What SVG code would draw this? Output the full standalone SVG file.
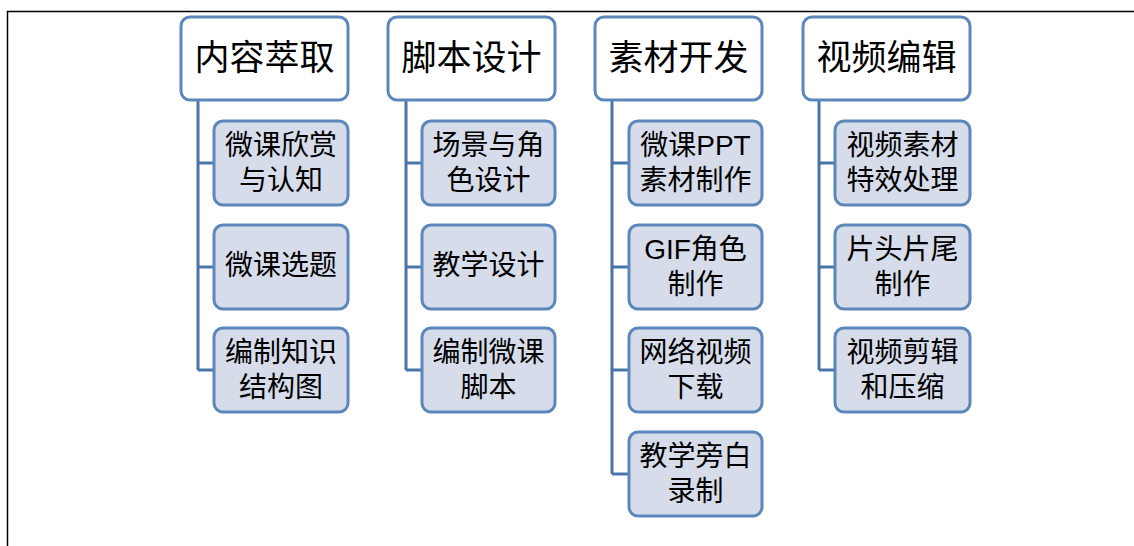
<svg xmlns="http://www.w3.org/2000/svg" width="1134" height="546" viewBox="0 0 1134 546">
<style>
.top{fill:#ffffff;stroke:#5b87bd;stroke-width:3}
.sub{fill:#d6dcea;stroke:#5b87bd;stroke-width:3}
.t1{font-family:"Liberation Sans","Noto Sans CJK SC",sans-serif;font-size:35px;fill:#000;text-anchor:middle}
.t2{font-family:"Liberation Sans","Noto Sans CJK SC",sans-serif;font-size:28px;fill:#000;text-anchor:middle}
.ln{fill:none;stroke:#4a74a8;stroke-width:3}
</style>
<rect x="0" y="0" width="1134" height="546" fill="#ffffff"/>
<rect x="7.5" y="11.5" width="1140" height="545" fill="none" stroke="#000" stroke-width="1.5"/>
<g id="connectors">
<path class="ln" d="M198 100V370M198 163H214M198 267H214M198 370H214"/>
<path class="ln" d="M406 100V370M406 163H422M406 267H422M406 370H422"/>
<path class="ln" d="M612 100V474M612 163H629M612 267H629M612 370H629M612 474H629"/>
<path class="ln" d="M819 100V370M819 163H835M819 267H835M819 370H835"/>
</g>
<g id="n1"><rect class="top" x="181" y="17" width="167" height="83" rx="9"/><text class="t1" x="264.5" y="70">内容萃取</text></g>
<g id="n2"><rect class="top" x="388" y="17" width="167" height="83" rx="9"/><text class="t1" x="471.5" y="70">脚本设计</text></g>
<g id="n3"><rect class="top" x="595" y="17" width="167" height="83" rx="9"/><text class="t1" x="678.5" y="70">素材开发</text></g>
<g id="n4"><rect class="top" x="803" y="17" width="167" height="83" rx="9"/><text class="t1" x="886.5" y="70">视频编辑</text></g>

<g id="n1a"><rect class="sub" x="214" y="121" width="134" height="84" rx="9"/><text class="t2" x="281" y="155">微课欣赏</text><text class="t2" x="281" y="190">与认知</text></g>
<g id="n1b"><rect class="sub" x="214" y="225" width="134" height="84" rx="9"/><text class="t2" x="281" y="275">微课选题</text></g>
<g id="n1c"><rect class="sub" x="214" y="328" width="134" height="84" rx="9"/><text class="t2" x="281" y="362">编制知识</text><text class="t2" x="281" y="397">结构图</text></g>

<g id="n2a"><rect class="sub" x="422" y="121" width="133" height="84" rx="9"/><text class="t2" x="488.5" y="155">场景与角</text><text class="t2" x="488.5" y="190">色设计</text></g>
<g id="n2b"><rect class="sub" x="422" y="225" width="133" height="84" rx="9"/><text class="t2" x="488.5" y="275">教学设计</text></g>
<g id="n2c"><rect class="sub" x="422" y="328" width="133" height="84" rx="9"/><text class="t2" x="488.5" y="362">编制微课</text><text class="t2" x="488.5" y="397">脚本</text></g>

<g id="n3a"><rect class="sub" x="629" y="121" width="133" height="84" rx="9"/><text class="t2" x="695.5" y="155">微课PPT</text><text class="t2" x="695.5" y="190">素材制作</text></g>
<g id="n3b"><rect class="sub" x="629" y="225" width="133" height="84" rx="9"/><text class="t2" x="695.5" y="259">GIF角色</text><text class="t2" x="695.5" y="294">制作</text></g>
<g id="n3c"><rect class="sub" x="629" y="328" width="133" height="84" rx="9"/><text class="t2" x="695.5" y="362">网络视频</text><text class="t2" x="695.5" y="397">下载</text></g>
<g id="n3d"><rect class="sub" x="629" y="432" width="133" height="84" rx="9"/><text class="t2" x="695.5" y="466">教学旁白</text><text class="t2" x="695.5" y="501">录制</text></g>

<g id="n4a"><rect class="sub" x="835" y="121" width="135" height="84" rx="9"/><text class="t2" x="902.5" y="155">视频素材</text><text class="t2" x="902.5" y="190">特效处理</text></g>
<g id="n4b"><rect class="sub" x="835" y="225" width="135" height="84" rx="9"/><text class="t2" x="902.5" y="259">片头片尾</text><text class="t2" x="902.5" y="294">制作</text></g>
<g id="n4c"><rect class="sub" x="835" y="328" width="135" height="84" rx="9"/><text class="t2" x="902.5" y="362">视频剪辑</text><text class="t2" x="902.5" y="397">和压缩</text></g>
</svg>
